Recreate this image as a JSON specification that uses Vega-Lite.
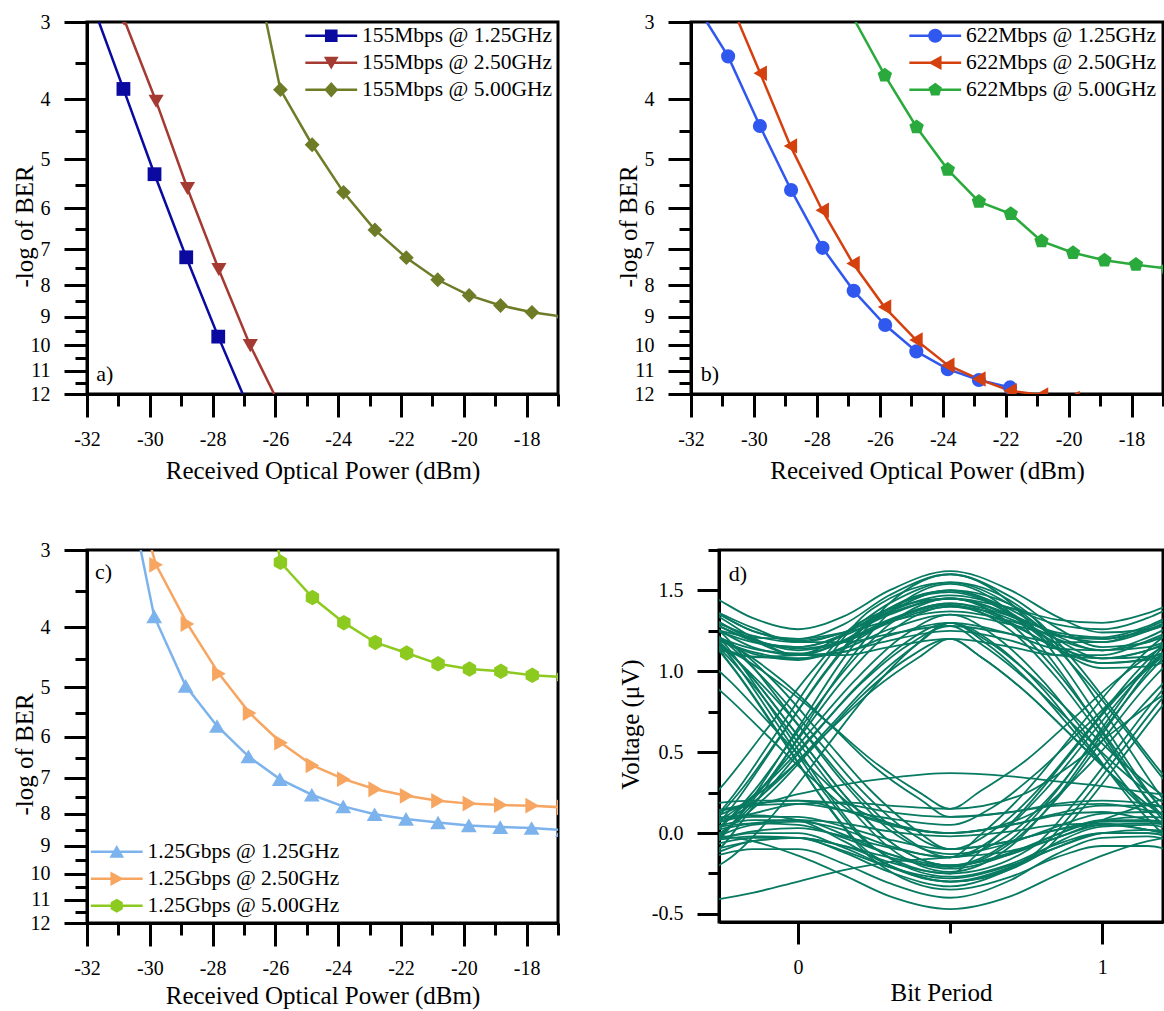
{
"$schema": "https://vega.github.io/schema/vega-lite/v6.json",
"background": "white",
"padding": {"left": 10, "top": 10, "right": 0, "bottom": 0},
"config": {
  "font": "Liberation Serif",
  "view": {"stroke": "black", "strokeWidth": 3},
  "axis": {"domainColor": "black", "domainWidth": 3, "tickColor": "black", "tickWidth": 3, "labelFont": "Liberation Serif", "labelFontSize": 20, "labelColor": "black", "titleFont": "Liberation Serif", "titleFontSize": 25, "titleFontWeight": "normal", "titleColor": "black", "grid": false, "labelFlush": false, "labelOverlap": false},
  "legend": {"labelFont": "Liberation Serif", "labelFontSize": 21.5, "labelColor": "black", "labelLimit": 400, "padding": 0, "rowPadding": 4, "symbolSize": 196, "symbolOffset": 19, "labelOffset": 20, "symbolStrokeWidth": 0, "symbolOpacity": 1}
},
"datasets": {
"a": [
{"s":"155Mbps @ 1.25GHz","x":-31.62,"y":3.0,"m":0},
{"s":"155Mbps @ 1.25GHz","x":-30.84,"y":3.85,"m":1},
{"s":"155Mbps @ 1.25GHz","x":-29.85,"y":5.29,"m":1},
{"s":"155Mbps @ 1.25GHz","x":-28.84,"y":7.21,"m":1},
{"s":"155Mbps @ 1.25GHz","x":-27.82,"y":9.69,"m":1},
{"s":"155Mbps @ 1.25GHz","x":-27.04,"y":12.0,"m":0},
{"s":"155Mbps @ 2.50GHz","x":-30.82,"y":2.97,"m":1},
{"s":"155Mbps @ 2.50GHz","x":-29.8,"y":4.03,"m":1},
{"s":"155Mbps @ 2.50GHz","x":-28.8,"y":5.58,"m":1},
{"s":"155Mbps @ 2.50GHz","x":-27.8,"y":7.55,"m":1},
{"s":"155Mbps @ 2.50GHz","x":-26.8,"y":10.02,"m":1},
{"s":"155Mbps @ 2.50GHz","x":-26.04,"y":12.0,"m":0},
{"s":"155Mbps @ 5.00GHz","x":-26.29,"y":3.0,"m":0},
{"s":"155Mbps @ 5.00GHz","x":-25.84,"y":3.86,"m":1},
{"s":"155Mbps @ 5.00GHz","x":-24.83,"y":4.74,"m":1},
{"s":"155Mbps @ 5.00GHz","x":-23.83,"y":5.66,"m":1},
{"s":"155Mbps @ 5.00GHz","x":-22.83,"y":6.51,"m":1},
{"s":"155Mbps @ 5.00GHz","x":-21.83,"y":7.22,"m":1},
{"s":"155Mbps @ 5.00GHz","x":-20.83,"y":7.84,"m":1},
{"s":"155Mbps @ 5.00GHz","x":-19.83,"y":8.31,"m":1},
{"s":"155Mbps @ 5.00GHz","x":-18.83,"y":8.63,"m":1},
{"s":"155Mbps @ 5.00GHz","x":-17.83,"y":8.85,"m":1},
{"s":"155Mbps @ 5.00GHz","x":-16.83,"y":9.0,"m":1}
],
"b": [
{"s":"622Mbps @ 1.25GHz","x":-31.5,"y":3.0,"m":0},
{"s":"622Mbps @ 1.25GHz","x":-30.82,"y":3.41,"m":1},
{"s":"622Mbps @ 1.25GHz","x":-29.81,"y":4.42,"m":1},
{"s":"622Mbps @ 1.25GHz","x":-28.82,"y":5.61,"m":1},
{"s":"622Mbps @ 1.25GHz","x":-27.82,"y":6.96,"m":1},
{"s":"622Mbps @ 1.25GHz","x":-26.83,"y":8.17,"m":1},
{"s":"622Mbps @ 1.25GHz","x":-25.83,"y":9.28,"m":1},
{"s":"622Mbps @ 1.25GHz","x":-24.84,"y":10.24,"m":1},
{"s":"622Mbps @ 1.25GHz","x":-23.84,"y":10.94,"m":1},
{"s":"622Mbps @ 1.25GHz","x":-22.85,"y":11.39,"m":1},
{"s":"622Mbps @ 1.25GHz","x":-21.86,"y":11.71,"m":1},
{"s":"622Mbps @ 2.50GHz","x":-30.49,"y":3.0,"m":0},
{"s":"622Mbps @ 2.50GHz","x":-29.8,"y":3.63,"m":1},
{"s":"622Mbps @ 2.50GHz","x":-28.84,"y":4.76,"m":1},
{"s":"622Mbps @ 2.50GHz","x":-27.83,"y":6.05,"m":1},
{"s":"622Mbps @ 2.50GHz","x":-26.85,"y":7.38,"m":1},
{"s":"622Mbps @ 2.50GHz","x":-25.85,"y":8.68,"m":1},
{"s":"622Mbps @ 2.50GHz","x":-24.85,"y":9.81,"m":1},
{"s":"622Mbps @ 2.50GHz","x":-23.84,"y":10.78,"m":1},
{"s":"622Mbps @ 2.50GHz","x":-22.85,"y":11.35,"m":1},
{"s":"622Mbps @ 2.50GHz","x":-21.86,"y":11.86,"m":1},
{"s":"622Mbps @ 2.50GHz","x":-20.86,"y":12.04,"m":1},
{"s":"622Mbps @ 2.50GHz","x":-19.86,"y":12.2,"m":1},
{"s":"622Mbps @ 2.50GHz","x":-18.86,"y":12.4,"m":1},
{"s":"622Mbps @ 5.00GHz","x":-26.77,"y":3.0,"m":0},
{"s":"622Mbps @ 5.00GHz","x":-25.84,"y":3.66,"m":1},
{"s":"622Mbps @ 5.00GHz","x":-24.83,"y":4.44,"m":1},
{"s":"622Mbps @ 5.00GHz","x":-23.84,"y":5.2,"m":1},
{"s":"622Mbps @ 5.00GHz","x":-22.85,"y":5.86,"m":1},
{"s":"622Mbps @ 5.00GHz","x":-21.84,"y":6.13,"m":1},
{"s":"622Mbps @ 5.00GHz","x":-20.86,"y":6.79,"m":1},
{"s":"622Mbps @ 5.00GHz","x":-19.86,"y":7.09,"m":1},
{"s":"622Mbps @ 5.00GHz","x":-18.86,"y":7.29,"m":1},
{"s":"622Mbps @ 5.00GHz","x":-17.86,"y":7.41,"m":1},
{"s":"622Mbps @ 5.00GHz","x":-16.86,"y":7.52,"m":1}
],
"c": [
{"s":"1.25Gbps @ 1.25GHz","x":-30.29,"y":3.0,"m":0},
{"s":"1.25Gbps @ 1.25GHz","x":-29.86,"y":3.84,"m":1},
{"s":"1.25Gbps @ 1.25GHz","x":-28.86,"y":4.97,"m":1},
{"s":"1.25Gbps @ 1.25GHz","x":-27.86,"y":5.77,"m":1},
{"s":"1.25Gbps @ 1.25GHz","x":-26.86,"y":6.46,"m":1},
{"s":"1.25Gbps @ 1.25GHz","x":-25.86,"y":7.03,"m":1},
{"s":"1.25Gbps @ 1.25GHz","x":-24.84,"y":7.45,"m":1},
{"s":"1.25Gbps @ 1.25GHz","x":-23.84,"y":7.78,"m":1},
{"s":"1.25Gbps @ 1.25GHz","x":-22.84,"y":8.01,"m":1},
{"s":"1.25Gbps @ 1.25GHz","x":-21.84,"y":8.15,"m":1},
{"s":"1.25Gbps @ 1.25GHz","x":-20.82,"y":8.26,"m":1},
{"s":"1.25Gbps @ 1.25GHz","x":-19.84,"y":8.35,"m":1},
{"s":"1.25Gbps @ 1.25GHz","x":-18.84,"y":8.4,"m":1},
{"s":"1.25Gbps @ 1.25GHz","x":-17.84,"y":8.43,"m":1},
{"s":"1.25Gbps @ 1.25GHz","x":-16.84,"y":8.5,"m":1},
{"s":"1.25Gbps @ 2.50GHz","x":-29.94,"y":3.0,"m":0},
{"s":"1.25Gbps @ 2.50GHz","x":-29.8,"y":3.17,"m":1},
{"s":"1.25Gbps @ 2.50GHz","x":-28.8,"y":3.95,"m":1},
{"s":"1.25Gbps @ 2.50GHz","x":-27.8,"y":4.75,"m":1},
{"s":"1.25Gbps @ 2.50GHz","x":-26.82,"y":5.5,"m":1},
{"s":"1.25Gbps @ 2.50GHz","x":-25.82,"y":6.14,"m":1},
{"s":"1.25Gbps @ 2.50GHz","x":-24.82,"y":6.68,"m":1},
{"s":"1.25Gbps @ 2.50GHz","x":-23.82,"y":7.03,"m":1},
{"s":"1.25Gbps @ 2.50GHz","x":-22.82,"y":7.3,"m":1},
{"s":"1.25Gbps @ 2.50GHz","x":-21.82,"y":7.48,"m":1},
{"s":"1.25Gbps @ 2.50GHz","x":-20.82,"y":7.62,"m":1},
{"s":"1.25Gbps @ 2.50GHz","x":-19.82,"y":7.7,"m":1},
{"s":"1.25Gbps @ 2.50GHz","x":-18.82,"y":7.74,"m":1},
{"s":"1.25Gbps @ 2.50GHz","x":-17.82,"y":7.76,"m":1},
{"s":"1.25Gbps @ 2.50GHz","x":-16.82,"y":7.81,"m":1},
{"s":"1.25Gbps @ 5.00GHz","x":-25.95,"y":2.9,"m":0},
{"s":"1.25Gbps @ 5.00GHz","x":-25.84,"y":3.14,"m":1},
{"s":"1.25Gbps @ 5.00GHz","x":-24.82,"y":3.58,"m":1},
{"s":"1.25Gbps @ 5.00GHz","x":-23.82,"y":3.93,"m":1},
{"s":"1.25Gbps @ 5.00GHz","x":-22.82,"y":4.23,"m":1},
{"s":"1.25Gbps @ 5.00GHz","x":-21.82,"y":4.4,"m":1},
{"s":"1.25Gbps @ 5.00GHz","x":-20.82,"y":4.58,"m":1},
{"s":"1.25Gbps @ 5.00GHz","x":-19.82,"y":4.67,"m":1},
{"s":"1.25Gbps @ 5.00GHz","x":-18.82,"y":4.71,"m":1},
{"s":"1.25Gbps @ 5.00GHz","x":-17.82,"y":4.78,"m":1},
{"s":"1.25Gbps @ 5.00GHz","x":-16.82,"y":4.81,"m":1}
],
"lab": [
{"p":"a","lab":"a)","x":-31.43,"y":11.15},
{"p":"b","lab":"b)","x":-31.4,"y":11.15},
{"p":"c","lab":"c)","x":-31.47,"y":3.25},
{"p":"d","lab":"d)","x":-0.198,"v":1.6}
],
"eye": [
{"t":1,"x":-0.5,"v":1.4},{"t":1,"x":-0.3,"v":1.31},{"t":1,"x":-0.15,"v":1.19},{"t":1,"x":0,"v":1.15},{"t":1,"x":0.15,"v":1.23},{"t":1,"x":0.3,"v":1.39},{"t":1,"x":0.5,"v":1.5},{"t":1,"x":0.7,"v":1.38},{"t":1,"x":0.85,"v":1.22},{"t":1,"x":1,"v":1.13},{"t":1,"x":1.15,"v":1.15},{"t":1,"x":1.3,"v":1.26},{"t":1,"x":1.5,"v":1.35},
{"t":2,"x":-0.5,"v":1.3},{"t":2,"x":-0.3,"v":1.22},{"t":2,"x":-0.15,"v":1.12},{"t":2,"x":0,"v":1.08},{"t":2,"x":0.15,"v":1.14},{"t":2,"x":0.3,"v":1.26},{"t":2,"x":0.5,"v":1.35},{"t":2,"x":0.7,"v":1.29},{"t":2,"x":0.85,"v":1.22},{"t":2,"x":1,"v":1.2},{"t":2,"x":1.15,"v":1.26},{"t":2,"x":1.3,"v":1.37},{"t":2,"x":1.5,"v":1.45},
{"t":3,"x":-0.5,"v":1.5},{"t":3,"x":-0.3,"v":1.39},{"t":3,"x":-0.15,"v":1.25},{"t":3,"x":0,"v":1.2},{"t":3,"x":0.15,"v":1.29},{"t":3,"x":0.3,"v":1.47},{"t":3,"x":0.5,"v":1.6},{"t":3,"x":0.7,"v":1.46},{"t":3,"x":0.85,"v":1.27},{"t":3,"x":1,"v":1.15},{"t":3,"x":1.15,"v":1.18},{"t":3,"x":1.3,"v":1.3},{"t":3,"x":1.5,"v":1.4},
{"t":4,"x":-0.5,"v":1.2},{"t":4,"x":-0.3,"v":1.15},{"t":4,"x":-0.15,"v":1.09},{"t":4,"x":0,"v":1.08},{"t":4,"x":0.15,"v":1.12},{"t":4,"x":0.3,"v":1.19},{"t":4,"x":0.5,"v":1.25},{"t":4,"x":0.7,"v":1.19},{"t":4,"x":0.85,"v":1.1},{"t":4,"x":1,"v":1.08},{"t":4,"x":1.15,"v":1.13},{"t":4,"x":1.3,"v":1.23},{"t":4,"x":1.5,"v":1.3},
{"t":5,"x":-0.5,"v":1.45},{"t":5,"x":-0.3,"v":1.34},{"t":5,"x":-0.15,"v":1.2},{"t":5,"x":0,"v":1.14},{"t":5,"x":0.15,"v":1.19},{"t":5,"x":0.3,"v":1.32},{"t":5,"x":0.5,"v":1.42},{"t":5,"x":0.7,"v":1.34},{"t":5,"x":0.85,"v":1.24},{"t":5,"x":1,"v":1.21},{"t":5,"x":1.15,"v":1.28},{"t":5,"x":1.3,"v":1.41},{"t":5,"x":1.5,"v":1.5},
{"t":6,"x":-0.5,"v":1.35},{"t":6,"x":-0.3,"v":1.27},{"t":6,"x":-0.15,"v":1.18},{"t":6,"x":0,"v":1.15},{"t":6,"x":0.15,"v":1.22},{"t":6,"x":0.3,"v":1.35},{"t":6,"x":0.5,"v":1.45},{"t":6,"x":0.7,"v":1.29},{"t":6,"x":0.85,"v":1.0},{"t":6,"x":1,"v":0.63},{"t":6,"x":1.15,"v":0.25},{"t":6,"x":1.3,"v":-0.04},{"t":6,"x":1.5,"v":-0.2},
{"t":7,"x":-0.5,"v":1.5},{"t":7,"x":-0.3,"v":1.38},{"t":7,"x":-0.15,"v":1.21},{"t":7,"x":0,"v":1.1},{"t":7,"x":0.15,"v":1.12},{"t":7,"x":0.3,"v":1.22},{"t":7,"x":0.5,"v":1.3},{"t":7,"x":0.62,"v":1.17},{"t":7,"x":0.77,"v":0.92},{"t":7,"x":0.92,"v":0.6},{"t":7,"x":1.07,"v":0.28},{"t":7,"x":1.22,"v":0.03},{"t":7,"x":1.42,"v":-0.1},
{"t":8,"x":-0.5,"v":1.25},{"t":8,"x":-0.3,"v":1.18},{"t":8,"x":-0.15,"v":1.09},{"t":8,"x":0,"v":1.1},{"t":8,"x":0.15,"v":1.23},{"t":8,"x":0.3,"v":1.42},{"t":8,"x":0.5,"v":1.55},{"t":8,"x":0.75,"v":1.37},{"t":8,"x":0.9,"v":1.04},{"t":8,"x":1.05,"v":0.63},{"t":8,"x":1.2,"v":0.21},{"t":8,"x":1.35,"v":-0.12},{"t":8,"x":1.55,"v":-0.3},
{"t":9,"x":-0.5,"v":1.4},{"t":9,"x":-0.3,"v":1.31},{"t":9,"x":-0.15,"v":1.19},{"t":9,"x":0,"v":1.1},{"t":9,"x":0.15,"v":1.1},{"t":9,"x":0.3,"v":1.15},{"t":9,"x":0.5,"v":1.2},{"t":9,"x":0.6,"v":1.09},{"t":9,"x":0.75,"v":0.87},{"t":9,"x":0.9,"v":0.6},{"t":9,"x":1.05,"v":0.33},{"t":9,"x":1.2,"v":0.11},{"t":9,"x":1.4,"v":0.0},
{"t":10,"x":-0.5,"v":1.45},{"t":10,"x":-0.3,"v":1.34},{"t":10,"x":-0.15,"v":1.2},{"t":10,"x":0,"v":1.13},{"t":10,"x":0.15,"v":1.18},{"t":10,"x":0.3,"v":1.3},{"t":10,"x":0.5,"v":1.4},{"t":10,"x":0.78,"v":1.25},{"t":10,"x":0.93,"v":0.98},{"t":10,"x":1.08,"v":0.63},{"t":10,"x":1.23,"v":0.27},{"t":10,"x":1.38,"v":0.0},{"t":10,"x":1.58,"v":-0.15},
{"t":11,"x":-0.5,"v":-0.25},{"t":11,"x":-0.3,"v":-0.09},{"t":11,"x":-0.15,"v":0.2},{"t":11,"x":0,"v":0.58},{"t":11,"x":0.15,"v":0.95},{"t":11,"x":0.3,"v":1.24},{"t":11,"x":0.5,"v":1.4},{"t":11,"x":0.7,"v":1.29},{"t":11,"x":0.85,"v":1.15},{"t":11,"x":1,"v":1.08},{"t":11,"x":1.15,"v":1.13},{"t":11,"x":1.3,"v":1.25},{"t":11,"x":1.5,"v":1.35},
{"t":12,"x":-0.4,"v":0.0},{"t":12,"x":-0.2,"v":0.12},{"t":12,"x":-0.05,"v":0.35},{"t":12,"x":0.1,"v":0.65},{"t":12,"x":0.25,"v":0.95},{"t":12,"x":0.4,"v":1.18},{"t":12,"x":0.5,"v":1.3},{"t":12,"x":0.7,"v":1.23},{"t":12,"x":0.85,"v":1.14},{"t":12,"x":1,"v":1.13},{"t":12,"x":1.15,"v":1.21},{"t":12,"x":1.3,"v":1.35},{"t":12,"x":1.5,"v":1.45},
{"t":13,"x":-0.56,"v":-0.25},{"t":13,"x":-0.36,"v":-0.08},{"t":13,"x":-0.21,"v":0.24},{"t":13,"x":-0.06,"v":0.65},{"t":13,"x":0.09,"v":1.06},{"t":13,"x":0.24,"v":1.38},{"t":13,"x":0.5,"v":1.55},{"t":13,"x":0.7,"v":1.41},{"t":13,"x":0.85,"v":1.2},{"t":13,"x":1,"v":1.08},{"t":13,"x":1.15,"v":1.09},{"t":13,"x":1.3,"v":1.2},{"t":13,"x":1.5,"v":1.3},
{"t":14,"x":-0.44,"v":-0.1},{"t":14,"x":-0.24,"v":0.02},{"t":14,"x":-0.09,"v":0.25},{"t":14,"x":0.06,"v":0.55},{"t":14,"x":0.21,"v":0.85},{"t":14,"x":0.36,"v":1.08},{"t":14,"x":0.5,"v":1.2},{"t":14,"x":0.7,"v":1.15},{"t":14,"x":0.85,"v":1.1},{"t":14,"x":1,"v":1.1},{"t":14,"x":1.15,"v":1.19},{"t":14,"x":1.3,"v":1.31},{"t":14,"x":1.5,"v":1.4},
{"t":15,"x":-0.6,"v":-0.15},{"t":15,"x":-0.4,"v":0.0},{"t":15,"x":-0.25,"v":0.29},{"t":15,"x":-0.1,"v":0.65},{"t":15,"x":0.05,"v":1.01},{"t":15,"x":0.2,"v":1.3},{"t":15,"x":0.5,"v":1.45},{"t":15,"x":0.7,"v":1.35},{"t":15,"x":0.85,"v":1.23},{"t":15,"x":1,"v":1.18},{"t":15,"x":1.15,"v":1.25},{"t":15,"x":1.3,"v":1.39},{"t":15,"x":1.5,"v":1.5},
{"t":16,"x":-0.46,"v":-0.1},{"t":16,"x":-0.26,"v":0.04},{"t":16,"x":-0.11,"v":0.3},{"t":16,"x":0.04,"v":0.63},{"t":16,"x":0.19,"v":0.95},{"t":16,"x":0.34,"v":1.21},{"t":16,"x":0.5,"v":1.35},{"t":16,"x":0.66,"v":1.2},{"t":16,"x":0.81,"v":0.93},{"t":16,"x":0.96,"v":0.58},{"t":16,"x":1.11,"v":0.22},{"t":16,"x":1.26,"v":-0.05},{"t":16,"x":1.46,"v":-0.2},
{"t":17,"x":-0.4,"v":0.05},{"t":17,"x":-0.2,"v":0.16},{"t":17,"x":-0.05,"v":0.36},{"t":17,"x":0.1,"v":0.63},{"t":17,"x":0.25,"v":0.89},{"t":17,"x":0.4,"v":1.09},{"t":17,"x":0.5,"v":1.2},{"t":17,"x":0.6,"v":1.09},{"t":17,"x":0.75,"v":0.87},{"t":17,"x":0.9,"v":0.6},{"t":17,"x":1.05,"v":0.33},{"t":17,"x":1.2,"v":0.11},{"t":17,"x":1.4,"v":0.0},
{"t":18,"x":-0.54,"v":-0.2},{"t":18,"x":-0.34,"v":-0.04},{"t":18,"x":-0.19,"v":0.26},{"t":18,"x":-0.04,"v":0.65},{"t":18,"x":0.11,"v":1.04},{"t":18,"x":0.26,"v":1.34},{"t":18,"x":0.5,"v":1.5},{"t":18,"x":0.76,"v":1.35},{"t":18,"x":0.91,"v":1.06},{"t":18,"x":1.06,"v":0.7},{"t":18,"x":1.21,"v":0.34},{"t":18,"x":1.36,"v":0.05},{"t":18,"x":1.56,"v":-0.1},
{"t":19,"x":-0.5,"v":-0.3},{"t":19,"x":-0.3,"v":-0.12},{"t":19,"x":-0.15,"v":0.22},{"t":19,"x":0,"v":0.65},{"t":19,"x":0.15,"v":1.08},{"t":19,"x":0.3,"v":1.42},{"t":19,"x":0.5,"v":1.6},{"t":19,"x":0.7,"v":1.42},{"t":19,"x":0.85,"v":1.09},{"t":19,"x":1,"v":0.68},{"t":19,"x":1.15,"v":0.26},{"t":19,"x":1.3,"v":-0.07},{"t":19,"x":1.5,"v":-0.25},
{"t":20,"x":-0.42,"v":-0.3},{"t":20,"x":-0.22,"v":-0.15},{"t":20,"x":-0.07,"v":0.14},{"t":20,"x":0.08,"v":0.5},{"t":20,"x":0.23,"v":0.86},{"t":20,"x":0.38,"v":1.15},{"t":20,"x":0.5,"v":1.3},{"t":20,"x":0.62,"v":1.19},{"t":20,"x":0.77,"v":0.97},{"t":20,"x":0.92,"v":0.7},{"t":20,"x":1.07,"v":0.43},{"t":20,"x":1.22,"v":0.21},{"t":20,"x":1.42,"v":0.1},
{"t":21,"x":-0.5,"v":0.0},{"t":21,"x":-0.3,"v":0.03},{"t":21,"x":-0.15,"v":0.06},{"t":21,"x":0,"v":0.05},{"t":21,"x":0.15,"v":-0.03},{"t":21,"x":0.3,"v":-0.13},{"t":21,"x":0.5,"v":-0.2},{"t":21,"x":0.7,"v":-0.12},{"t":21,"x":0.85,"v":-0.01},{"t":21,"x":1,"v":0.08},{"t":21,"x":1.15,"v":0.1},{"t":21,"x":1.3,"v":0.08},{"t":21,"x":1.5,"v":0.05},
{"t":22,"x":-0.5,"v":-0.1},{"t":22,"x":-0.3,"v":-0.05},{"t":22,"x":-0.15,"v":0.0},{"t":22,"x":0,"v":0.0},{"t":22,"x":0.15,"v":-0.09},{"t":22,"x":0.3,"v":-0.21},{"t":22,"x":0.5,"v":-0.3},{"t":22,"x":0.7,"v":-0.21},{"t":22,"x":0.85,"v":-0.09},{"t":22,"x":1,"v":0.0},{"t":22,"x":1.15,"v":0.0},{"t":22,"x":1.3,"v":-0.05},{"t":22,"x":1.5,"v":-0.1},
{"t":23,"x":-0.5,"v":0.15},{"t":23,"x":-0.3,"v":0.18},{"t":23,"x":-0.15,"v":0.2},{"t":23,"x":0,"v":0.2},{"t":23,"x":0.15,"v":0.14},{"t":23,"x":0.3,"v":0.06},{"t":23,"x":0.5,"v":0.0},{"t":23,"x":0.7,"v":0.05},{"t":23,"x":0.85,"v":0.12},{"t":23,"x":1,"v":0.17},{"t":23,"x":1.15,"v":0.17},{"t":23,"x":1.3,"v":0.13},{"t":23,"x":1.5,"v":0.1},
{"t":24,"x":-0.5,"v":-0.2},{"t":24,"x":-0.3,"v":-0.15},{"t":24,"x":-0.15,"v":-0.1},{"t":24,"x":0,"v":-0.1},{"t":24,"x":0.15,"v":-0.19},{"t":24,"x":0.3,"v":-0.31},{"t":24,"x":0.5,"v":-0.4},{"t":24,"x":0.7,"v":-0.29},{"t":24,"x":0.85,"v":-0.13},{"t":24,"x":1,"v":-0.03},{"t":24,"x":1.15,"v":-0.02},{"t":24,"x":1.3,"v":-0.09},{"t":24,"x":1.5,"v":-0.15},
{"t":25,"x":-0.5,"v":0.1},{"t":25,"x":-0.3,"v":0.13},{"t":25,"x":-0.15,"v":0.18},{"t":25,"x":0,"v":0.2},{"t":25,"x":0.15,"v":0.18},{"t":25,"x":0.3,"v":0.13},{"t":25,"x":0.5,"v":0.1},{"t":25,"x":0.7,"v":0.13},{"t":25,"x":0.85,"v":0.17},{"t":25,"x":1,"v":0.18},{"t":25,"x":1.15,"v":0.14},{"t":25,"x":1.3,"v":0.09},{"t":25,"x":1.5,"v":0.05},
{"t":26,"x":-0.5,"v":-0.1},{"t":26,"x":-0.3,"v":-0.05},{"t":26,"x":-0.15,"v":0.01},{"t":26,"x":0,"v":0.03},{"t":26,"x":0.15,"v":-0.02},{"t":26,"x":0.3,"v":-0.09},{"t":26,"x":0.5,"v":-0.15},{"t":26,"x":0.7,"v":0.0},{"t":26,"x":0.85,"v":0.27},{"t":26,"x":1,"v":0.63},{"t":26,"x":1.15,"v":0.98},{"t":26,"x":1.3,"v":1.25},{"t":26,"x":1.5,"v":1.4},
{"t":27,"x":-0.5,"v":0.05},{"t":27,"x":-0.3,"v":0.09},{"t":27,"x":-0.15,"v":0.11},{"t":27,"x":0,"v":0.08},{"t":27,"x":0.15,"v":-0.05},{"t":27,"x":0.3,"v":-0.2},{"t":27,"x":0.5,"v":-0.3},{"t":27,"x":0.78,"v":-0.15},{"t":27,"x":0.93,"v":0.14},{"t":27,"x":1.08,"v":0.5},{"t":27,"x":1.23,"v":0.86},{"t":27,"x":1.38,"v":1.15},{"t":27,"x":1.58,"v":1.3},
{"t":28,"x":-0.5,"v":0.1},{"t":28,"x":-0.3,"v":0.13},{"t":28,"x":-0.15,"v":0.17},{"t":28,"x":0,"v":0.18},{"t":28,"x":0.15,"v":0.14},{"t":28,"x":0.3,"v":0.09},{"t":28,"x":0.5,"v":0.05},{"t":28,"x":0.64,"v":0.16},{"t":28,"x":0.79,"v":0.38},{"t":28,"x":0.94,"v":0.65},{"t":28,"x":1.09,"v":0.92},{"t":28,"x":1.24,"v":1.14},{"t":28,"x":1.44,"v":1.25},
{"t":29,"x":-0.5,"v":-0.2},{"t":29,"x":-0.3,"v":-0.14},{"t":29,"x":-0.15,"v":-0.05},{"t":29,"x":0,"v":-0.03},{"t":29,"x":0.15,"v":-0.08},{"t":29,"x":0.3,"v":-0.18},{"t":29,"x":0.5,"v":-0.25},{"t":29,"x":0.6,"v":-0.11},{"t":29,"x":0.75,"v":0.16},{"t":29,"x":0.9,"v":0.5},{"t":29,"x":1.05,"v":0.84},{"t":29,"x":1.2,"v":1.11},{"t":29,"x":1.4,"v":1.25},
{"t":30,"x":-0.5,"v":0.0},{"t":30,"x":-0.3,"v":0.05},{"t":30,"x":-0.15,"v":0.12},{"t":30,"x":0,"v":0.18},{"t":30,"x":0.15,"v":0.19},{"t":30,"x":0.3,"v":0.17},{"t":30,"x":0.5,"v":0.15},{"t":30,"x":0.74,"v":0.24},{"t":30,"x":0.89,"v":0.41},{"t":30,"x":1.04,"v":0.63},{"t":30,"x":1.19,"v":0.84},{"t":30,"x":1.34,"v":1.01},{"t":30,"x":1.54,"v":1.1},
{"t":31,"x":-0.5,"v":1.4},{"t":31,"x":-0.3,"v":1.25},{"t":31,"x":-0.15,"v":0.96},{"t":31,"x":0,"v":0.6},{"t":31,"x":0.15,"v":0.24},{"t":31,"x":0.3,"v":-0.05},{"t":31,"x":0.5,"v":-0.2},{"t":31,"x":0.7,"v":-0.13},{"t":31,"x":0.85,"v":-0.03},{"t":31,"x":1,"v":0.05},{"t":31,"x":1.15,"v":0.06},{"t":31,"x":1.3,"v":0.03},{"t":31,"x":1.5,"v":0.0},
{"t":32,"x":-0.42,"v":1.3},{"t":32,"x":-0.22,"v":1.17},{"t":32,"x":-0.07,"v":0.92},{"t":32,"x":0.08,"v":0.6},{"t":32,"x":0.23,"v":0.28},{"t":32,"x":0.38,"v":0.03},{"t":32,"x":0.5,"v":-0.1},{"t":32,"x":0.7,"v":-0.05},{"t":32,"x":0.85,"v":0.02},{"t":32,"x":1,"v":0.05},{"t":32,"x":1.15,"v":0.02},{"t":32,"x":1.3,"v":-0.05},{"t":32,"x":1.5,"v":-0.1},
{"t":33,"x":-0.55,"v":1.5},{"t":33,"x":-0.35,"v":1.32},{"t":33,"x":-0.2,"v":0.99},{"t":33,"x":-0.05,"v":0.58},{"t":33,"x":0.1,"v":0.16},{"t":33,"x":0.25,"v":-0.17},{"t":33,"x":0.5,"v":-0.35},{"t":33,"x":0.7,"v":-0.27},{"t":33,"x":0.85,"v":-0.15},{"t":33,"x":1,"v":-0.08},{"t":33,"x":1.15,"v":-0.08},{"t":33,"x":1.3,"v":-0.15},{"t":33,"x":1.5,"v":-0.2},
{"t":34,"x":-0.4,"v":1.25},{"t":34,"x":-0.2,"v":1.14},{"t":34,"x":-0.05,"v":0.94},{"t":34,"x":0.1,"v":0.68},{"t":34,"x":0.25,"v":0.41},{"t":34,"x":0.4,"v":0.21},{"t":34,"x":0.5,"v":0.1},{"t":34,"x":0.7,"v":0.13},{"t":34,"x":0.85,"v":0.18},{"t":34,"x":1,"v":0.2},{"t":34,"x":1.15,"v":0.18},{"t":34,"x":1.3,"v":0.13},{"t":34,"x":1.5,"v":0.1},
{"t":35,"x":-0.6,"v":1.2},{"t":35,"x":-0.4,"v":1.09},{"t":35,"x":-0.25,"v":0.87},{"t":35,"x":-0.1,"v":0.6},{"t":35,"x":0.05,"v":0.33},{"t":35,"x":0.2,"v":0.11},{"t":35,"x":0.5,"v":0.0},{"t":35,"x":0.7,"v":0.05},{"t":35,"x":0.85,"v":0.11},{"t":35,"x":1,"v":0.13},{"t":35,"x":1.15,"v":0.08},{"t":35,"x":1.3,"v":0.01},{"t":35,"x":1.5,"v":-0.05},
{"t":36,"x":-0.46,"v":1.35},{"t":36,"x":-0.26,"v":1.21},{"t":36,"x":-0.11,"v":0.95},{"t":36,"x":0.04,"v":0.63},{"t":36,"x":0.19,"v":0.3},{"t":36,"x":0.34,"v":0.04},{"t":36,"x":0.5,"v":-0.1},{"t":36,"x":0.66,"v":0.04},{"t":36,"x":0.81,"v":0.31},{"t":36,"x":0.96,"v":0.65},{"t":36,"x":1.11,"v":0.99},{"t":36,"x":1.26,"v":1.26},{"t":36,"x":1.46,"v":1.4},
{"t":37,"x":-0.56,"v":1.5},{"t":37,"x":-0.36,"v":1.33},{"t":37,"x":-0.21,"v":1.01},{"t":37,"x":-0.06,"v":0.6},{"t":37,"x":0.09,"v":0.19},{"t":37,"x":0.24,"v":-0.13},{"t":37,"x":0.5,"v":-0.3},{"t":37,"x":0.76,"v":-0.15},{"t":37,"x":0.91,"v":0.14},{"t":37,"x":1.06,"v":0.5},{"t":37,"x":1.21,"v":0.86},{"t":37,"x":1.36,"v":1.15},{"t":37,"x":1.56,"v":1.3},
{"t":38,"x":-0.4,"v":1.2},{"t":38,"x":-0.2,"v":1.1},{"t":38,"x":-0.05,"v":0.91},{"t":38,"x":0.1,"v":0.68},{"t":38,"x":0.25,"v":0.44},{"t":38,"x":0.4,"v":0.25},{"t":38,"x":0.5,"v":0.15},{"t":38,"x":0.6,"v":0.26},{"t":38,"x":0.75,"v":0.45},{"t":38,"x":0.9,"v":0.7},{"t":38,"x":1.05,"v":0.95},{"t":38,"x":1.2,"v":1.15},{"t":38,"x":1.4,"v":1.25},
{"t":39,"x":-0.5,"v":1.4},{"t":39,"x":-0.3,"v":1.25},{"t":39,"x":-0.15,"v":0.96},{"t":39,"x":0,"v":0.6},{"t":39,"x":0.15,"v":0.24},{"t":39,"x":0.3,"v":-0.05},{"t":39,"x":0.5,"v":-0.2},{"t":39,"x":0.7,"v":-0.04},{"t":39,"x":0.85,"v":0.26},{"t":39,"x":1,"v":0.65},{"t":39,"x":1.15,"v":1.04},{"t":39,"x":1.3,"v":1.34},{"t":39,"x":1.5,"v":1.5},
{"t":40,"x":-0.58,"v":1.3},{"t":40,"x":-0.38,"v":1.18},{"t":40,"x":-0.23,"v":0.95},{"t":40,"x":-0.08,"v":0.65},{"t":40,"x":0.07,"v":0.35},{"t":40,"x":0.22,"v":0.12},{"t":40,"x":0.5,"v":0.0},{"t":40,"x":0.78,"v":0.13},{"t":40,"x":0.93,"v":0.37},{"t":40,"x":1.08,"v":0.68},{"t":40,"x":1.23,"v":0.98},{"t":40,"x":1.38,"v":1.22},{"t":40,"x":1.58,"v":1.35},
{"t":41,"x":-0.5,"v":0.0},{"t":41,"x":-0.3,"v":-0.01},{"t":41,"x":-0.15,"v":-0.05},{"t":41,"x":0,"v":-0.14},{"t":41,"x":0.15,"v":-0.26},{"t":41,"x":0.3,"v":-0.39},{"t":41,"x":0.5,"v":-0.47},{"t":41,"x":0.7,"v":-0.39},{"t":41,"x":0.85,"v":-0.26},{"t":41,"x":1,"v":-0.14},{"t":41,"x":1.15,"v":-0.05},{"t":41,"x":1.3,"v":-0.01},{"t":41,"x":1.5,"v":0.0},
{"t":42,"x":-0.5,"v":0.1},{"t":42,"x":-0.3,"v":0.13},{"t":42,"x":-0.15,"v":0.17},{"t":42,"x":0,"v":0.24},{"t":42,"x":0.15,"v":0.3},{"t":42,"x":0.3,"v":0.34},{"t":42,"x":0.5,"v":0.37},{"t":42,"x":0.7,"v":0.35},{"t":42,"x":0.85,"v":0.32},{"t":42,"x":1,"v":0.29},{"t":42,"x":1.15,"v":0.25},{"t":42,"x":1.3,"v":0.22},{"t":42,"x":1.5,"v":0.2},
{"t":43,"x":-0.5,"v":-0.45},{"t":43,"x":-0.3,"v":-0.42},{"t":43,"x":-0.15,"v":-0.37},{"t":43,"x":0,"v":-0.3},{"t":43,"x":0.15,"v":-0.23},{"t":43,"x":0.3,"v":-0.18},{"t":43,"x":0.5,"v":-0.15},{"t":43,"x":0.7,"v":-0.11},{"t":43,"x":0.85,"v":-0.03},{"t":43,"x":1,"v":0.08},{"t":43,"x":1.15,"v":0.18},{"t":43,"x":1.3,"v":0.26},{"t":43,"x":1.5,"v":0.3},
{"t":44,"x":-0.5,"v":1.6},{"t":44,"x":-0.3,"v":1.48},{"t":44,"x":-0.15,"v":1.33},{"t":44,"x":0,"v":1.26},{"t":44,"x":0.15,"v":1.34},{"t":44,"x":0.3,"v":1.5},{"t":44,"x":0.5,"v":1.62},{"t":44,"x":0.7,"v":1.5},{"t":44,"x":0.85,"v":1.34},{"t":44,"x":1,"v":1.24},{"t":44,"x":1.15,"v":1.26},{"t":44,"x":1.3,"v":1.36},{"t":44,"x":1.5,"v":1.45},
{"t":45,"x":-0.5,"v":1.32},{"t":45,"x":-0.3,"v":1.23},{"t":45,"x":-0.15,"v":1.11},{"t":45,"x":0,"v":1.07},{"t":45,"x":0.15,"v":1.15},{"t":45,"x":0.3,"v":1.31},{"t":45,"x":0.5,"v":1.42},{"t":45,"x":0.7,"v":1.3},{"t":45,"x":0.85,"v":1.14},{"t":45,"x":1,"v":1.05},{"t":45,"x":1.15,"v":1.07},{"t":45,"x":1.3,"v":1.18},{"t":45,"x":1.5,"v":1.27},
{"t":46,"x":-0.5,"v":1.4},{"t":46,"x":-0.3,"v":1.29},{"t":46,"x":-0.15,"v":1.15},{"t":46,"x":0,"v":1.1},{"t":46,"x":0.15,"v":1.19},{"t":46,"x":0.3,"v":1.37},{"t":46,"x":0.5,"v":1.5},{"t":46,"x":0.7,"v":1.36},{"t":46,"x":0.85,"v":1.17},{"t":46,"x":1,"v":1.05},{"t":46,"x":1.15,"v":1.08},{"t":46,"x":1.3,"v":1.2},{"t":46,"x":1.5,"v":1.3},
{"t":47,"x":-0.5,"v":1.5},{"t":47,"x":-0.3,"v":1.39},{"t":47,"x":-0.15,"v":1.25},{"t":47,"x":0,"v":1.19},{"t":47,"x":0.15,"v":1.24},{"t":47,"x":0.3,"v":1.37},{"t":47,"x":0.5,"v":1.47},{"t":47,"x":0.7,"v":1.39},{"t":47,"x":0.85,"v":1.29},{"t":47,"x":1,"v":1.26},{"t":47,"x":1.15,"v":1.33},{"t":47,"x":1.3,"v":1.46},{"t":47,"x":1.5,"v":1.55},
{"t":48,"x":-0.5,"v":1.31},{"t":48,"x":-0.3,"v":1.23},{"t":48,"x":-0.15,"v":1.14},{"t":48,"x":0,"v":1.11},{"t":48,"x":0.15,"v":1.18},{"t":48,"x":0.3,"v":1.31},{"t":48,"x":0.5,"v":1.41},{"t":48,"x":0.7,"v":1.25},{"t":48,"x":0.85,"v":0.96},{"t":48,"x":1,"v":0.59},{"t":48,"x":1.15,"v":0.21},{"t":48,"x":1.3,"v":-0.08},{"t":48,"x":1.5,"v":-0.24},
{"t":49,"x":-0.5,"v":-0.2},{"t":49,"x":-0.3,"v":-0.04},{"t":49,"x":-0.15,"v":0.25},{"t":49,"x":0,"v":0.63},{"t":49,"x":0.15,"v":1.0},{"t":49,"x":0.3,"v":1.29},{"t":49,"x":0.5,"v":1.45},{"t":49,"x":0.7,"v":1.34},{"t":49,"x":0.85,"v":1.2},{"t":49,"x":1,"v":1.13},{"t":49,"x":1.15,"v":1.18},{"t":49,"x":1.3,"v":1.3},{"t":49,"x":1.5,"v":1.4},
{"t":50,"x":-0.46,"v":-0.15},{"t":50,"x":-0.26,"v":-0.01},{"t":50,"x":-0.11,"v":0.25},{"t":50,"x":0.04,"v":0.58},{"t":50,"x":0.19,"v":0.9},{"t":50,"x":0.34,"v":1.16},{"t":50,"x":0.5,"v":1.3},{"t":50,"x":0.66,"v":1.15},{"t":50,"x":0.81,"v":0.88},{"t":50,"x":0.96,"v":0.53},{"t":50,"x":1.11,"v":0.17},{"t":50,"x":1.26,"v":-0.1},{"t":50,"x":1.46,"v":-0.25},
{"t":51,"x":-0.5,"v":-0.36},{"t":51,"x":-0.3,"v":-0.18},{"t":51,"x":-0.15,"v":0.16},{"t":51,"x":0,"v":0.59},{"t":51,"x":0.15,"v":1.02},{"t":51,"x":0.3,"v":1.36},{"t":51,"x":0.5,"v":1.54},{"t":51,"x":0.7,"v":1.36},{"t":51,"x":0.85,"v":1.03},{"t":51,"x":1,"v":0.62},{"t":51,"x":1.15,"v":0.2},{"t":51,"x":1.3,"v":-0.13},{"t":51,"x":1.5,"v":-0.31},
{"t":52,"x":-0.5,"v":-0.08},{"t":52,"x":-0.3,"v":-0.05},{"t":52,"x":-0.15,"v":-0.02},{"t":52,"x":0,"v":-0.03},{"t":52,"x":0.15,"v":-0.11},{"t":52,"x":0.3,"v":-0.21},{"t":52,"x":0.5,"v":-0.28},{"t":52,"x":0.7,"v":-0.2},{"t":52,"x":0.85,"v":-0.09},{"t":52,"x":1,"v":0.0},{"t":52,"x":1.15,"v":0.02},{"t":52,"x":1.3,"v":0.0},{"t":52,"x":1.5,"v":-0.03},
{"t":53,"x":-0.5,"v":-0.02},{"t":53,"x":-0.3,"v":0.03},{"t":53,"x":-0.15,"v":0.08},{"t":53,"x":0,"v":0.08},{"t":53,"x":0.15,"v":-0.01},{"t":53,"x":0.3,"v":-0.13},{"t":53,"x":0.5,"v":-0.22},{"t":53,"x":0.7,"v":-0.13},{"t":53,"x":0.85,"v":-0.01},{"t":53,"x":1,"v":0.08},{"t":53,"x":1.15,"v":0.08},{"t":53,"x":1.3,"v":0.03},{"t":53,"x":1.5,"v":-0.02},
{"t":54,"x":-0.5,"v":-0.13},{"t":54,"x":-0.3,"v":-0.08},{"t":54,"x":-0.15,"v":-0.03},{"t":54,"x":0,"v":-0.03},{"t":54,"x":0.15,"v":-0.12},{"t":54,"x":0.3,"v":-0.24},{"t":54,"x":0.5,"v":-0.33},{"t":54,"x":0.7,"v":-0.22},{"t":54,"x":0.85,"v":-0.06},{"t":54,"x":1,"v":0.04},{"t":54,"x":1.15,"v":0.05},{"t":54,"x":1.3,"v":-0.02},{"t":54,"x":1.5,"v":-0.08},
{"t":55,"x":-0.5,"v":-0.16},{"t":55,"x":-0.3,"v":-0.11},{"t":55,"x":-0.15,"v":-0.05},{"t":55,"x":0,"v":-0.03},{"t":55,"x":0.15,"v":-0.08},{"t":55,"x":0.3,"v":-0.15},{"t":55,"x":0.5,"v":-0.21},{"t":55,"x":0.7,"v":-0.06},{"t":55,"x":0.85,"v":0.21},{"t":55,"x":1,"v":0.57},{"t":55,"x":1.15,"v":0.92},{"t":55,"x":1.3,"v":1.19},{"t":55,"x":1.5,"v":1.34},
{"t":56,"x":-0.5,"v":1.47},{"t":56,"x":-0.3,"v":1.32},{"t":56,"x":-0.15,"v":1.03},{"t":56,"x":0,"v":0.67},{"t":56,"x":0.15,"v":0.31},{"t":56,"x":0.3,"v":0.02},{"t":56,"x":0.5,"v":-0.13},{"t":56,"x":0.7,"v":-0.06},{"t":56,"x":0.85,"v":0.04},{"t":56,"x":1,"v":0.12},{"t":56,"x":1.15,"v":0.13},{"t":56,"x":1.3,"v":0.1},{"t":56,"x":1.5,"v":0.07},
{"t":57,"x":-0.46,"v":1.3},{"t":57,"x":-0.26,"v":1.16},{"t":57,"x":-0.11,"v":0.9},{"t":57,"x":0.04,"v":0.58},{"t":57,"x":0.19,"v":0.25},{"t":57,"x":0.34,"v":-0.01},{"t":57,"x":0.5,"v":-0.15},{"t":57,"x":0.66,"v":-0.01},{"t":57,"x":0.81,"v":0.26},{"t":57,"x":0.96,"v":0.6},{"t":57,"x":1.11,"v":0.94},{"t":57,"x":1.26,"v":1.21},{"t":57,"x":1.46,"v":1.35},
{"t":58,"x":-0.5,"v":1.36},{"t":58,"x":-0.3,"v":1.21},{"t":58,"x":-0.15,"v":0.92},{"t":58,"x":0,"v":0.56},{"t":58,"x":0.15,"v":0.2},{"t":58,"x":0.3,"v":-0.09},{"t":58,"x":0.5,"v":-0.24},{"t":58,"x":0.7,"v":-0.08},{"t":58,"x":0.85,"v":0.22},{"t":58,"x":1,"v":0.61},{"t":58,"x":1.15,"v":1.0},{"t":58,"x":1.3,"v":1.3},{"t":58,"x":1.5,"v":1.46},
{"t":59,"x":-0.5,"v":1.48},{"t":59,"x":-0.3,"v":1.39},{"t":59,"x":-0.15,"v":1.27},{"t":59,"x":0,"v":1.18},{"t":59,"x":0.15,"v":1.18},{"t":59,"x":0.3,"v":1.23},{"t":59,"x":0.5,"v":1.28},{"t":59,"x":0.6,"v":1.17},{"t":59,"x":0.75,"v":0.95},{"t":59,"x":0.9,"v":0.68},{"t":59,"x":1.05,"v":0.41},{"t":59,"x":1.2,"v":0.19},{"t":59,"x":1.4,"v":0.08},
{"t":60,"x":-0.44,"v":-0.02},{"t":60,"x":-0.24,"v":0.1},{"t":60,"x":-0.09,"v":0.33},{"t":60,"x":0.06,"v":0.63},{"t":60,"x":0.21,"v":0.93},{"t":60,"x":0.36,"v":1.16},{"t":60,"x":0.5,"v":1.28},{"t":60,"x":0.7,"v":1.23},{"t":60,"x":0.85,"v":1.18},{"t":60,"x":1,"v":1.18},{"t":60,"x":1.15,"v":1.27},{"t":60,"x":1.3,"v":1.39},{"t":60,"x":1.5,"v":1.48},
{"t":61,"x":-0.5,"v":-0.1},{"t":61,"x":-0.3,"v":-0.04},{"t":61,"x":-0.15,"v":0.05},{"t":61,"x":0,"v":0.07},{"t":61,"x":0.15,"v":0.02},{"t":61,"x":0.3,"v":-0.08},{"t":61,"x":0.5,"v":-0.15},{"t":61,"x":0.6,"v":-0.01},{"t":61,"x":0.75,"v":0.26},{"t":61,"x":0.9,"v":0.6},{"t":61,"x":1.05,"v":0.94},{"t":61,"x":1.2,"v":1.21},{"t":61,"x":1.4,"v":1.35},
{"t":62,"x":-0.55,"v":1.58},{"t":62,"x":-0.35,"v":1.4},{"t":62,"x":-0.2,"v":1.07},{"t":62,"x":-0.05,"v":0.66},{"t":62,"x":0.1,"v":0.24},{"t":62,"x":0.25,"v":-0.09},{"t":62,"x":0.5,"v":-0.27},{"t":62,"x":0.7,"v":-0.19},{"t":62,"x":0.85,"v":-0.07},{"t":62,"x":1,"v":0.0},{"t":62,"x":1.15,"v":0.0},{"t":62,"x":1.3,"v":-0.07},{"t":62,"x":1.5,"v":-0.12},
{"t":63,"x":-0.56,"v":-0.31},{"t":63,"x":-0.36,"v":-0.14},{"t":63,"x":-0.21,"v":0.18},{"t":63,"x":-0.06,"v":0.59},{"t":63,"x":0.09,"v":1.0},{"t":63,"x":0.24,"v":1.32},{"t":63,"x":0.5,"v":1.49},{"t":63,"x":0.7,"v":1.35},{"t":63,"x":0.85,"v":1.14},{"t":63,"x":1,"v":1.02},{"t":63,"x":1.15,"v":1.03},{"t":63,"x":1.3,"v":1.14},{"t":63,"x":1.5,"v":1.24},
{"t":64,"x":-0.56,"v":1.55},{"t":64,"x":-0.36,"v":1.38},{"t":64,"x":-0.21,"v":1.06},{"t":64,"x":-0.06,"v":0.65},{"t":64,"x":0.09,"v":0.24},{"t":64,"x":0.24,"v":-0.08},{"t":64,"x":0.5,"v":-0.25},{"t":64,"x":0.76,"v":-0.1},{"t":64,"x":0.91,"v":0.19},{"t":64,"x":1.06,"v":0.55},{"t":64,"x":1.21,"v":0.91},{"t":64,"x":1.36,"v":1.2},{"t":64,"x":1.56,"v":1.35},
{"t":65,"x":-0.5,"v":0.05},{"t":65,"x":-0.3,"v":0.08},{"t":65,"x":-0.15,"v":0.1},{"t":65,"x":0,"v":0.1},{"t":65,"x":0.15,"v":0.04},{"t":65,"x":0.3,"v":-0.04},{"t":65,"x":0.5,"v":-0.1},{"t":65,"x":0.7,"v":-0.05},{"t":65,"x":0.85,"v":0.02},{"t":65,"x":1,"v":0.07},{"t":65,"x":1.15,"v":0.07},{"t":65,"x":1.3,"v":0.03},{"t":65,"x":1.5,"v":0.0},
{"t":66,"x":-0.5,"v":-0.02},{"t":66,"x":-0.3,"v":0.01},{"t":66,"x":-0.15,"v":0.06},{"t":66,"x":0,"v":0.08},{"t":66,"x":0.15,"v":0.06},{"t":66,"x":0.3,"v":0.01},{"t":66,"x":0.5,"v":-0.02},{"t":66,"x":0.7,"v":0.01},{"t":66,"x":0.85,"v":0.05},{"t":66,"x":1,"v":0.06},{"t":66,"x":1.15,"v":0.02},{"t":66,"x":1.3,"v":-0.03},{"t":66,"x":1.5,"v":-0.07},
{"t":67,"x":-0.5,"v":1.4},{"t":67,"x":-0.3,"v":1.32},{"t":67,"x":-0.15,"v":1.22},{"t":67,"x":0,"v":1.18},{"t":67,"x":0.15,"v":1.24},{"t":67,"x":0.3,"v":1.36},{"t":67,"x":0.5,"v":1.45},{"t":67,"x":0.7,"v":1.39},{"t":67,"x":0.85,"v":1.32},{"t":67,"x":1,"v":1.3},{"t":67,"x":1.15,"v":1.36},{"t":67,"x":1.3,"v":1.47},{"t":67,"x":1.5,"v":1.55},
{"t":68,"x":-0.5,"v":1.32},{"t":68,"x":-0.3,"v":1.27},{"t":68,"x":-0.15,"v":1.21},{"t":68,"x":0,"v":1.2},{"t":68,"x":0.15,"v":1.24},{"t":68,"x":0.3,"v":1.31},{"t":68,"x":0.5,"v":1.37},{"t":68,"x":0.7,"v":1.31},{"t":68,"x":0.85,"v":1.22},{"t":68,"x":1,"v":1.2},{"t":68,"x":1.15,"v":1.25},{"t":68,"x":1.3,"v":1.35},{"t":68,"x":1.5,"v":1.42}
]
},
"spacing": 53,
"resolve": {"scale": {"color": "independent", "shape": "independent", "stroke": "independent"}, "legend": {"color": "independent", "shape": "independent"}},
"vconcat": [
{
"spacing": 133,
"bounds": "flush",
"resolve": {"scale": {"color": "independent", "shape": "independent", "stroke": "independent"}, "legend": {"color": "independent", "shape": "independent"}},
"hconcat": [
{
"width": 471, "height": 372,
"encoding": {
  "x": {"field": "x", "type": "quantitative", "scale": {"domain": [-32, -17], "nice": false, "zero": false},
    "axis": {"title": "Received Optical Power (dBm)", "values": [-32,-31,-30,-29,-28,-27,-26,-25,-24,-23,-22,-21,-20,-19,-18,-17], "labelExpr": "datum.value % 2 === 0 ? '' + datum.value : ''", "tickSize": {"condition": {"test": "datum.value % 2 === 0", "value": 23}, "value": 12}, "labelPadding": 12, "titleY": 84, "titleBaseline": "alphabetic"}},
  "y": {"field": "y", "type": "quantitative", "scale": {"type": "log", "domain": [3, 12], "reverse": true, "nice": false},
    "axis": {"title": "-log of BER", "values": [3,3.5,4,4.5,5,5.5,6,6.5,7,7.5,8,8.5,9,9.5,10,10.5,11,11.5,12], "labelExpr": "datum.value % 1 === 0 ? '' + datum.value : ''", "tickSize": {"condition": {"test": "datum.value % 1 === 0", "value": 23}, "value": 12}, "labelPadding": 14, "titleX": -63, "titleY": 204, "titleBaseline": "middle", "titleAngle": 270}}
},
"layer": [
  {"data": {"name": "a"}, "mark": {"type": "line", "clip": true, "strokeWidth": 2.5},
   "encoding": {"stroke": {"field": "s", "type": "nominal", "scale": {"domain": ["155Mbps @ 5.00GHz","155Mbps @ 2.50GHz","155Mbps @ 1.25GHz"], "range": ["#6E7B27","#A53A33","#0A0AA0"]}, "legend": null}}},
  {"data": {"name": "a"}, "transform": [{"filter": "datum.m == 1 && datum.s == '155Mbps @ 1.25GHz'"}], "mark": {"type": "point", "shape": "square", "filled": true, "opacity": 1, "size": 190, "clip": true, "color": "#0A0AA0"}},
  {"data": {"name": "a"}, "transform": [{"filter": "datum.m == 1 && datum.s == '155Mbps @ 2.50GHz'"}], "mark": {"type": "point", "shape": "triangle-down", "filled": true, "opacity": 1, "size": 230, "clip": true, "color": "#A53A33"}},
  {"data": {"name": "a"}, "transform": [{"filter": "datum.m == 1 && datum.s == '155Mbps @ 5.00GHz'"}], "mark": {"type": "point", "shape": "diamond", "filled": true, "opacity": 1, "size": 220, "clip": true, "color": "#6E7B27"}},
  {"data": {"name": "a"}, "transform": [{"filter": "false"}], "mark": {"type": "point", "filled": true, "opacity": 1},
   "encoding": {
     "color": {"field": "s", "type": "nominal", "scale": {"domain": ["155Mbps @ 1.25GHz","155Mbps @ 2.50GHz","155Mbps @ 5.00GHz"], "range": ["#0A0AA0","#A53A33","#6E7B27"]},
       "legend": {"title": null, "orient": "none", "legendX": 214.5, "legendY": 3}},
     "shape": {"field": "s", "type": "nominal", "scale": {"domain": ["155Mbps @ 1.25GHz","155Mbps @ 2.50GHz","155Mbps @ 5.00GHz"], "range": ["M-3.7,-0.18H3.7V0.18H-3.7Z M-0.9,-0.9H0.9V0.9H-0.9Z","M-3.7,-0.18H3.7V0.18H-3.7Z M-1.05,-0.85L1.05,-0.85L0,0.95Z","M-3.7,-0.18H3.7V0.18H-3.7Z M0,-1.1L1,0L0,1.1L-1,0Z"]},
       "legend": {"title": null, "orient": "none", "legendX": 214.5, "legendY": 3}}
   }},
  {"data": {"name": "lab"}, "transform": [{"filter": "datum.p == 'a'"}], "mark": {"type": "text", "fontSize": 22, "font": "Liberation Serif", "align": "center", "baseline": "middle", "color": "black"}, "encoding": {"text": {"field": "lab"}}}
]
},
{
"width": 472, "height": 372,
"encoding": {
  "x": {"field": "x", "type": "quantitative", "scale": {"domain": [-32, -17], "nice": false, "zero": false},
    "axis": {"title": "Received Optical Power (dBm)", "values": [-32,-31,-30,-29,-28,-27,-26,-25,-24,-23,-22,-21,-20,-19,-18,-17], "labelExpr": "datum.value % 2 === 0 ? '' + datum.value : ''", "tickSize": {"condition": {"test": "datum.value % 2 === 0", "value": 23}, "value": 12}, "labelPadding": 12, "titleY": 84, "titleBaseline": "alphabetic"}},
  "y": {"field": "y", "type": "quantitative", "scale": {"type": "log", "domain": [3, 12], "reverse": true, "nice": false},
    "axis": {"title": "-log of BER", "values": [3,3.5,4,4.5,5,5.5,6,6.5,7,7.5,8,8.5,9,9.5,10,10.5,11,11.5,12], "labelExpr": "datum.value % 1 === 0 ? '' + datum.value : ''", "tickSize": {"condition": {"test": "datum.value % 1 === 0", "value": 23}, "value": 12}, "labelPadding": 14, "titleX": -63, "titleY": 204, "titleBaseline": "middle", "titleAngle": 270}}
},
"layer": [
  {"data": {"name": "b"}, "mark": {"type": "line", "clip": true, "strokeWidth": 2.5},
   "encoding": {"stroke": {"field": "s", "type": "nominal", "scale": {"domain": ["622Mbps @ 5.00GHz","622Mbps @ 2.50GHz","622Mbps @ 1.25GHz"], "range": ["#2AAA3C","#D5400F","#3158EE"]}, "legend": null}}},
  {"data": {"name": "b"}, "transform": [{"filter": "datum.m == 1 && datum.s == '622Mbps @ 1.25GHz'"}], "mark": {"type": "point", "shape": "circle", "filled": true, "opacity": 1, "size": 200, "clip": true, "color": "#3158EE"}},
  {"data": {"name": "b"}, "transform": [{"filter": "datum.m == 1 && datum.s == '622Mbps @ 2.50GHz'"}], "mark": {"type": "point", "shape": "triangle-left", "filled": true, "opacity": 1, "size": 240, "clip": true, "color": "#D5400F"}},
  {"data": {"name": "b"}, "transform": [{"filter": "datum.m == 1 && datum.s == '622Mbps @ 5.00GHz'"}], "mark": {"type": "point", "shape": "M0,-1L0.951,-0.309L0.588,0.809L-0.588,0.809L-0.951,-0.309Z", "filled": true, "opacity": 1, "size": 230, "clip": true, "color": "#2AAA3C"}},
  {"data": {"name": "b"}, "transform": [{"filter": "false"}], "mark": {"type": "point", "filled": true, "opacity": 1},
   "encoding": {
     "color": {"field": "s", "type": "nominal", "scale": {"domain": ["622Mbps @ 1.25GHz","622Mbps @ 2.50GHz","622Mbps @ 5.00GHz"], "range": ["#3158EE","#D5400F","#2AAA3C"]},
       "legend": {"title": null, "orient": "none", "legendX": 214.5, "legendY": 3}},
     "shape": {"field": "s", "type": "nominal", "scale": {"domain": ["622Mbps @ 1.25GHz","622Mbps @ 2.50GHz","622Mbps @ 5.00GHz"], "range": ["M-3.7,-0.18H3.7V0.18H-3.7Z M-1,0A1,1,0,1,1,1,0A1,1,0,1,1,-1,0Z","M-3.7,-0.18H3.7V0.18H-3.7Z M-1,0L0.9,-1.05L0.9,1.05Z","M-3.7,-0.18H3.7V0.18H-3.7Z M0,-1L0.951,-0.309L0.588,0.809L-0.588,0.809L-0.951,-0.309Z"]},
       "legend": {"title": null, "orient": "none", "legendX": 214.5, "legendY": 3}}
   }},
  {"data": {"name": "lab"}, "transform": [{"filter": "datum.p == 'b'"}], "mark": {"type": "text", "fontSize": 22, "font": "Liberation Serif", "align": "center", "baseline": "middle", "color": "black"}, "encoding": {"text": {"field": "lab"}}}
]
}
]
},
{
"spacing": 161,
"bounds": "flush",
"resolve": {"scale": {"color": "independent", "shape": "independent", "stroke": "independent"}, "legend": {"color": "independent", "shape": "independent"}},
"hconcat": [
{
"width": 471, "height": 373,
"encoding": {
  "x": {"field": "x", "type": "quantitative", "scale": {"domain": [-32, -17], "nice": false, "zero": false},
    "axis": {"title": "Received Optical Power (dBm)", "values": [-32,-31,-30,-29,-28,-27,-26,-25,-24,-23,-22,-21,-20,-19,-18,-17], "labelExpr": "datum.value % 2 === 0 ? '' + datum.value : ''", "tickSize": {"condition": {"test": "datum.value % 2 === 0", "value": 23}, "value": 12}, "labelPadding": 12, "titleY": 80, "titleBaseline": "alphabetic"}},
  "y": {"field": "y", "type": "quantitative", "scale": {"type": "log", "domain": [3, 12], "reverse": true, "nice": false},
    "axis": {"title": "-log of BER", "values": [3,3.5,4,4.5,5,5.5,6,6.5,7,7.5,8,8.5,9,9.5,10,10.5,11,11.5,12], "labelExpr": "datum.value % 1 === 0 ? '' + datum.value : ''", "tickSize": {"condition": {"test": "datum.value % 1 === 0", "value": 23}, "value": 12}, "labelPadding": 14, "titleX": -63, "titleY": 204, "titleBaseline": "middle", "titleAngle": 270}}
},
"layer": [
  {"data": {"name": "c"}, "mark": {"type": "line", "clip": true, "strokeWidth": 2.5},
   "encoding": {"stroke": {"field": "s", "type": "nominal", "scale": {"domain": ["1.25Gbps @ 5.00GHz","1.25Gbps @ 2.50GHz","1.25Gbps @ 1.25GHz"], "range": ["#8DCA1F","#F7A662","#7DB3EC"]}, "legend": null}}},
  {"data": {"name": "c"}, "transform": [{"filter": "datum.m == 1 && datum.s == '1.25Gbps @ 1.25GHz'"}], "mark": {"type": "point", "shape": "triangle-up", "filled": true, "opacity": 1, "size": 250, "clip": true, "color": "#7DB3EC"}},
  {"data": {"name": "c"}, "transform": [{"filter": "datum.m == 1 && datum.s == '1.25Gbps @ 2.50GHz'"}], "mark": {"type": "point", "shape": "triangle-right", "filled": true, "opacity": 1, "size": 250, "clip": true, "color": "#F7A662"}},
  {"data": {"name": "c"}, "transform": [{"filter": "datum.m == 1 && datum.s == '1.25Gbps @ 5.00GHz'"}], "mark": {"type": "point", "shape": "M0,-1L0.866,-0.5L0.866,0.5L0,1L-0.866,0.5L-0.866,-0.5Z", "filled": true, "opacity": 1, "size": 240, "clip": true, "color": "#8DCA1F"}},
  {"data": {"name": "c"}, "transform": [{"filter": "false"}], "mark": {"type": "point", "filled": true, "opacity": 1},
   "encoding": {
     "color": {"field": "s", "type": "nominal", "scale": {"domain": ["1.25Gbps @ 1.25GHz","1.25Gbps @ 2.50GHz","1.25Gbps @ 5.00GHz"], "range": ["#7DB3EC","#F7A662","#8DCA1F"]},
       "legend": {"title": null, "orient": "none", "legendX": 0, "legendY": 291}},
     "shape": {"field": "s", "type": "nominal", "scale": {"domain": ["1.25Gbps @ 1.25GHz","1.25Gbps @ 2.50GHz","1.25Gbps @ 5.00GHz"], "range": ["M-3.7,-0.18H3.7V0.18H-3.7Z M0,-0.95L1.05,0.85L-1.05,0.85Z","M-3.7,-0.18H3.7V0.18H-3.7Z M1,0L-0.9,1.05L-0.9,-1.05Z","M-3.7,-0.18H3.7V0.18H-3.7Z M0,-1L0.866,-0.5L0.866,0.5L0,1L-0.866,0.5L-0.866,-0.5Z"]},
       "legend": {"title": null, "orient": "none", "legendX": 0, "legendY": 291}}
   }},
  {"data": {"name": "lab"}, "transform": [{"filter": "datum.p == 'c'"}], "mark": {"type": "text", "fontSize": 22, "font": "Liberation Serif", "align": "center", "baseline": "middle", "color": "black"}, "encoding": {"text": {"field": "lab"}}}
]
},
{
"width": 444, "height": 372,
"encoding": {
  "x": {"field": "x", "type": "quantitative", "scale": {"domain": [-0.26, 1.2], "nice": false, "zero": false},
    "axis": {"title": "Bit Period", "values": [0, 0.5, 1], "labelExpr": "datum.value === 0.5 ? '' : '' + datum.value", "tickSize": {"condition": {"test": "datum.value === 0.5", "value": 11}, "value": 22}, "labelPadding": 13, "titleY": 78, "titleBaseline": "alphabetic"}},
  "y": {"field": "v", "type": "quantitative", "scale": {"domain": [-0.55, 1.75], "nice": false, "zero": false},
    "axis": {"title": "Voltage (μV)", "values": [-0.5,-0.25,0,0.25,0.5,0.75,1,1.25,1.5,1.75], "labelExpr": "datum.value === 0 ? '0.0' : datum.value === 1 ? '1.0' : datum.value % 0.5 === 0 ? '' + datum.value : ''", "tickSize": {"condition": {"test": "datum.value % 0.5 === 0", "value": 22}, "value": 11}, "labelPadding": 14, "titleX": -89, "titleY": 174, "titleBaseline": "middle", "titleAngle": 270}}
},
"layer": [
  {"data": {"name": "eye"}, "mark": {"type": "line", "clip": true, "strokeWidth": 1.8, "color": "#087A62", "interpolate": "monotone"},
   "encoding": {"detail": {"field": "t", "type": "nominal"}}},
  {"data": {"name": "lab"}, "transform": [{"filter": "datum.p == 'd'"}], "mark": {"type": "text", "fontSize": 22, "font": "Liberation Serif", "align": "center", "baseline": "middle", "color": "black"}, "encoding": {"text": {"field": "lab"}}}
]
}
]
}
]
}
